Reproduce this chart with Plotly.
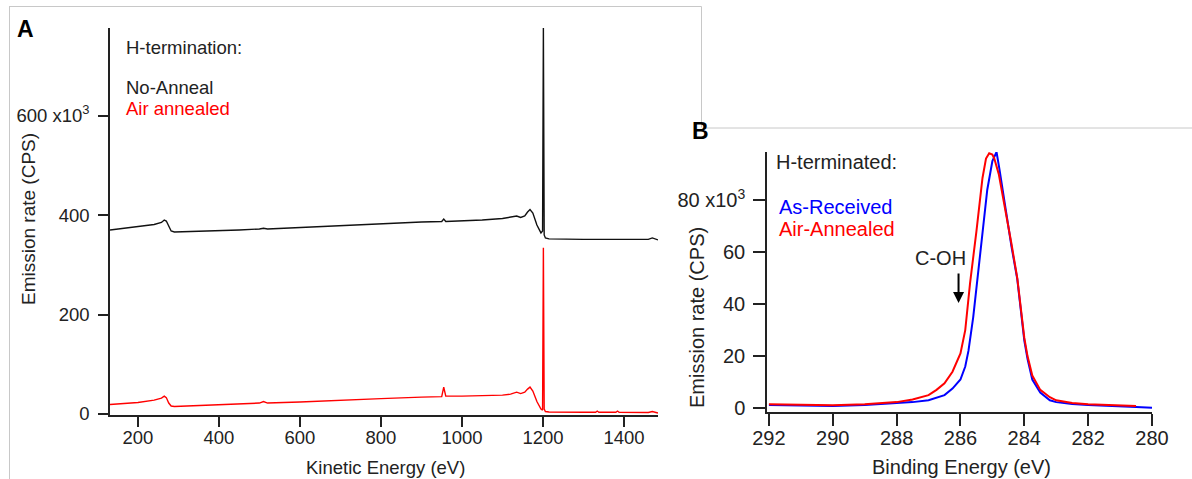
import plotly.graph_objects as go

# ---- Panel A: survey spectra (kinetic energy, eV; emission rate in 10^3 CPS)
ke = [131, 150, 200, 240, 258, 265, 270, 276, 282, 290, 350, 450, 500, 510, 520,
      600, 700, 800, 900, 950, 955, 960, 1000, 1050, 1100, 1120, 1135, 1145, 1155,
      1162, 1168, 1175, 1185, 1195, 1199, 1201, 1203, 1206, 1215, 1300, 1330, 1334,
      1338, 1380, 1384, 1388, 1460, 1470, 1478, 1484]
no_anneal = [370, 372, 376, 381, 385, 390, 388, 378, 368, 366, 367, 370, 372, 373.5, 372,
             375, 379, 383, 386, 387, 392, 387, 388, 390, 393, 395, 398, 395, 398,
             406, 411, 404, 380, 364, 368, 776, 360, 354, 352, 351, 351, 351,
             351, 351, 351, 351, 351, 354, 352, 350]
air_annealed = [19, 20, 23, 28, 32, 36, 33, 22, 16, 15, 17, 20, 22, 25, 22,
                24, 28, 31, 34, 35, 54, 36, 36, 37, 38, 40, 44, 41, 44,
                50, 54, 46, 25, 10, 8, 334, 10, 5, 4, 3.5, 3.5, 6,
                3.5, 3.5, 6, 3.5, 3, 5, 3, 2]

# ---- Panel B: C 1s region (binding energy, eV; emission rate in 10^3 CPS)
be_received = [292.0, 291.0, 290.0, 289.0, 288.0, 287.5, 287.0, 286.5, 286.25, 286.0,
               285.85, 285.75, 285.6, 285.47, 285.3, 285.16, 285.0, 284.87, 284.78,
               284.6, 284.4, 284.22, 284.1, 284.0, 283.9, 283.75, 283.5, 283.2,
               283.0, 282.5, 282.0, 281.0, 280.5, 280.0]
as_received = [1.2, 1.0, 0.8, 1.2, 1.9, 2.3, 3.0, 5.0, 7.5, 11.0,
               16.0, 22.0, 35.0, 50.0, 70.0, 84.0, 95.0, 98.5, 92.0,
               77.0, 62.0, 49.6, 37.0, 26.0, 19.0, 11.0, 6.0, 3.0,
               2.3, 1.6, 1.2, 0.8, 0.4, 0.1]
be_annealed = [292.0, 291.0, 290.0, 289.0, 288.0, 287.5, 287.0, 286.75, 286.5, 286.25,
               286.0, 285.85, 285.77, 285.7, 285.5, 285.31, 285.2, 285.1, 285.0,
               284.94, 284.8, 284.6, 284.4, 284.22, 284.1, 284.0, 283.9, 283.75,
               283.5, 283.2, 283.0, 282.5, 282.0, 281.0, 280.5]
air_annealed_c1s = [1.5, 1.2, 1.1, 1.5, 2.3, 3.3, 5.0, 7.0, 9.5, 14.0,
                    21.0, 30.0, 40.0, 48.0, 68.0, 88.5, 96.0, 98.0, 97.5,
                    96.0, 90.0, 77.0, 63.0, 50.0, 38.0, 27.0, 20.0, 12.5,
                    7.0, 4.2, 3.0, 2.0, 1.5, 1.2, 0.8]

ke_ticks = [200, 400, 600, 800, 1000, 1200, 1400]
a_yticks = [0, 200, 400, 600]
a_yticktext = ["0", "200", "400", "600 x10<sup>3</sup>"]
be_ticks = [292, 290, 288, 286, 284, 282, 280]
b_yticks = [0, 20, 40, 60, 80]
b_yticktext = ["0", "20", "40", "60", "80 x10<sup>3</sup>"]

W, H = 1192, 479
FONT = "Liberation Sans, Arial, sans-serif"
AXC = "#222222"


def px(x):
    return x / W


def py(y):
    return 1 - y / H


fig = go.Figure()
fig.add_trace(go.Scatter(x=ke, y=no_anneal, mode="lines",
                         line=dict(color="#111111", width=1.4),
                         xaxis="x", yaxis="y", showlegend=False))
fig.add_trace(go.Scatter(x=ke, y=air_annealed, mode="lines",
                         line=dict(color="#ff0000", width=1.4),
                         xaxis="x", yaxis="y", showlegend=False))
fig.add_trace(go.Scatter(x=be_received, y=as_received, mode="lines",
                         line=dict(color="#0000ff", width=2),
                         xaxis="x2", yaxis="y2", showlegend=False))
fig.add_trace(go.Scatter(x=be_annealed, y=air_annealed_c1s, mode="lines",
                         line=dict(color="#ff0000", width=2),
                         xaxis="x2", yaxis="y2", showlegend=False))

axis_common = dict(showline=True, linecolor=AXC, linewidth=1.5, ticks="outside",
                   tickcolor=AXC, tickwidth=1.5, showgrid=False, zeroline=False,
                   automargin=False)

fig.update_layout(
    width=W, height=H, autosize=False,
    margin=dict(l=0, r=0, t=0, b=0),
    paper_bgcolor="white", plot_bgcolor="white",
    font=dict(family=FONT, color=AXC),
    xaxis=dict(domain=[px(110), px(658)], range=[131, 1484], anchor="y",
               tickvals=ke_ticks, ticklen=10, ticklabelstandoff=-5,
               tickfont=dict(size=18.5), **axis_common),
    yaxis=dict(domain=[py(415), py(28)], range=[-2, 776], anchor="x",
               tickvals=a_yticks, ticktext=a_yticktext, ticklen=10,
               ticklabelstandoff=5, tickfont=dict(size=18.5), **axis_common),
    xaxis2=dict(domain=[px(767), px(1152)], range=[292.06, 280], anchor="y2",
                tickvals=be_ticks, ticklen=12, ticklabelstandoff=-5,
                tickfont=dict(size=20), **axis_common),
    yaxis2=dict(domain=[py(412), py(152)], range=[-1.5, 98.5], anchor="x2",
                tickvals=b_yticks, ticktext=b_yticktext, ticklen=12,
                ticklabelstandoff=4, tickfont=dict(size=20), **axis_common),
)


def note(text, x, y, size, color=AXC, xanchor="left", angle=0, bold=False):
    if bold:
        text = "<b>" + text + "</b>"
    fig.add_annotation(text=text, x=px(x), y=py(y), xref="paper", yref="paper",
                       xanchor=xanchor, yanchor="middle", showarrow=False,
                       textangle=angle, font=dict(family=FONT, size=size, color=color))


# panel letters
note("A", 25, 29, 23, color="#000000", xanchor="center", bold=True)
note("B", 700, 131, 23, color="#000000", xanchor="center", bold=True)

# panel A labels
note("H-termination:", 124, 47, 18.5)
note("No-Anneal", 124, 88, 18.5)
note("Air annealed", 124, 109, 18.5, color="#ff0000")
note("Emission rate (CPS)", 28, 219, 19, xanchor="center", angle=-90)
note("Kinetic Energy (eV)", 385, 467, 18.5, xanchor="center")

# panel B labels
note("H-terminated:", 774, 162, 20)
note("As-Received", 777, 207, 20, color="#0000ff")
note("Air-Annealed", 777, 229, 20, color="#ff0000")
note("Emission rate (CPS)", 697, 317, 20, xanchor="center", angle=-90)
note("Binding Energy (eV)", 961, 467, 20, xanchor="center")
note("C-OH", 913, 258, 20)

# arrow marking the C-OH shoulder
fig.add_annotation(x=286.06, y=40.4, xref="x2", yref="y2", text="",
                   showarrow=True, ax=0, ay=-31, arrowhead=2, arrowsize=1.1,
                   arrowwidth=2, arrowcolor="#000000")

# light frame lines around the panels
frame = dict(type="line", xref="paper", yref="paper",
             line=dict(color="#c8c8c8", width=1))
fig.add_shape(x0=px(9.5), x1=px(9.5), y0=py(6), y1=py(479), **frame)
fig.add_shape(x0=px(9.5), x1=px(701.5), y0=py(6.5), y1=py(6.5), **frame)
fig.add_shape(x0=px(701.5), x1=px(701.5), y0=py(6.5), y1=py(127.5), **frame)
fig.add_shape(x0=px(703), x1=px(1192), y0=py(128), y1=py(128), **frame)

fig.write_html("out.html")
